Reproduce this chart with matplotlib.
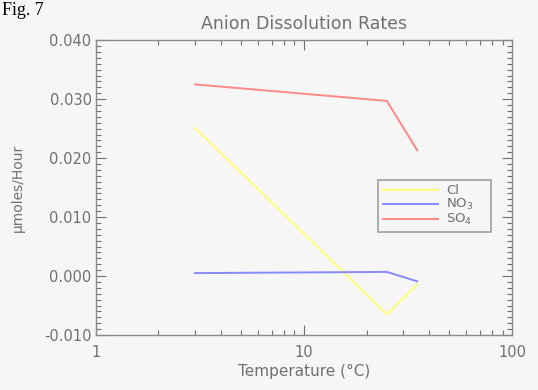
import matplotlib.pyplot as plt
from matplotlib.ticker import FixedLocator, LogLocator, MultipleLocator, FormatStrFormatter, NullFormatter

# temperatures (deg C) and dissolution rates (umoles/hour)
temperature = [3, 25, 35]
cl_rate = [0.0251, -0.0065, -0.0014]
no3_rate = [0.0005, 0.0007, -0.0009]
so4_rate = [0.0325, 0.0297, 0.0213]

series_labels = ['Cl', 'NO$_3$', 'SO$_4$']
series_colors = ['#ffff78', '#8888ff', '#ff8888']

x_ticks = [1, 10, 100]
x_tick_labels = ['1', '10', '100']
y_ticks = [-0.010, 0.000, 0.010, 0.020, 0.030, 0.040]

bg = '#f6f6f6'
fg = '#707070'

plt.rcParams['font.family'] = ['DejaVu Sans']
fig = plt.figure(figsize=(5.38, 3.90), dpi=100, facecolor=bg)
ax = fig.add_axes([0.178, 0.141, 0.774, 0.756], facecolor=bg)

for rates, label, color in zip([cl_rate, no3_rate, so4_rate], series_labels, series_colors):
    ax.plot(temperature, rates, color=color, lw=1.4, label=label)

ax.set_xscale('log')
ax.set_xlim(1, 100)
ax.set_ylim(-0.010, 0.040)

ax.xaxis.set_major_locator(FixedLocator(x_ticks))
ax.set_xticklabels(x_tick_labels)
ax.xaxis.set_minor_locator(LogLocator(base=10, subs=range(2, 10)))
ax.xaxis.set_minor_formatter(NullFormatter())
ax.yaxis.set_major_locator(FixedLocator(y_ticks))
ax.yaxis.set_major_formatter(FormatStrFormatter('%.3f'))
ax.yaxis.set_minor_locator(MultipleLocator(0.001))

ax.tick_params(which='both', direction='in', top=True, right=True, colors=fg,
               labelcolor=fg, labelsize=10.5, width=0.8)
ax.tick_params(which='major', length=7)
ax.tick_params(which='minor', length=3.5)
ax.tick_params(axis='y', which='major', pad=3)
ax.tick_params(axis='x', which='major', pad=7)
for s in ax.spines.values():
    s.set_color('#8a8a8a')
    s.set_linewidth(1.0)

ax.set_title('Anion Dissolution Rates', color=fg, fontsize=12.5, pad=8)
ax.set_xlabel('Temperature (\u00b0C)', color=fg, fontsize=11, labelpad=3)
ax.set_ylabel('\u03bcmoles/Hour', color=fg, fontsize=10, labelpad=14)

leg = ax.legend(loc='lower left', bbox_to_anchor=(0.678, 0.349, 0.27, 0.17),
                mode='expand', fancybox=False, frameon=True, fontsize=9.5,
                handlelength=4.2, handletextpad=0.6, labelspacing=0.0,
                borderpad=0.35, borderaxespad=0)
leg.get_frame().set_edgecolor('#8a8a8a')
leg.get_frame().set_facecolor(bg)
leg.get_frame().set_linewidth(1.2)
for t in leg.get_texts():
    t.set_color(fg)

fig.text(0.004, 0.962, 'Fig. 7', family='Liberation Serif', fontsize=13,
         color='black', va='baseline', ha='left')

fig.savefig('out.png', dpi=100, facecolor=bg)
